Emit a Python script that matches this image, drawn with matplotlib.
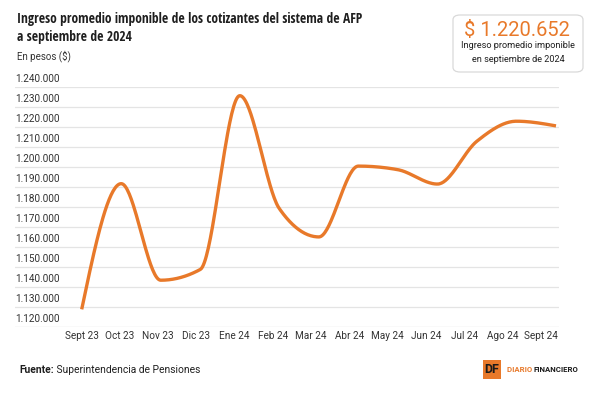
import numpy as np
import matplotlib
matplotlib.use("Agg")
import matplotlib.pyplot as plt
from matplotlib.patches import FancyBboxPatch
import matplotlib.transforms as mtransforms

plt.rcParams['font.family'] = ['Roboto', 'DejaVu Sans']
NARROW = ['Open Sans Condensed', 'Roboto Condensed', 'DejaVu Sans Condensed', 'Noto Sans Condensed']

# ---- data ----
months = ["Sept 23", "Oct 23", "Nov 23", "Dic 23", "Ene 24", "Feb 24", "Mar 24",
          "Abr 24", "May 24", "Jun 24", "Jul 24", "Ago 24", "Sept 24"]
values = [1128700, 1191700, 1143300, 1148700, 1235800, 1179200, 1165000,
          1200500, 1198700, 1191500, 1213000, 1223000, 1220652]
y_ticks = list(range(1120000, 1240001, 10000))

title_lines = ["Ingreso promedio imponible de los cotizantes del sistema de AFP",
               "a septiembre de 2024"]
subtitle = "En pesos ($)"
kpi_value = "$ 1.220.652"
kpi_lines = ["Ingreso promedio imponible", "en septiembre de 2024"]
source_bold = "Fuente:"
source_text = " Superintendencia de Pensiones"

ORANGE = "#E8792A"
DARK = "#1f1f1f"
GREY = "#333333"


def fmt(v):
    return f"{v:,.0f}".replace(",", ".")


def monotone_x(x, y, n=40):
    x = np.asarray(x, float)
    y = np.asarray(y, float)
    h = np.diff(x)
    s = np.diff(y) / h
    t = np.zeros_like(y)
    for i in range(1, len(y) - 1):
        s0, s1 = s[i - 1], s[i]
        h0, h1 = h[i - 1], h[i]
        p = (s0 * h1 + s1 * h0) / (h0 + h1)
        t[i] = (np.sign(s0) + np.sign(s1)) * min(abs(s0), abs(s1), 0.5 * abs(p))
    t[0] = (3 * s[0] - t[1]) / 2
    t[-1] = (3 * s[-1] - t[-2]) / 2
    xs, ys = [], []
    u = np.linspace(0, 1, n)
    for i in range(len(x) - 1):
        dx = h[i] / 3
        P0 = (x[i], y[i])
        P1 = (x[i] + dx, y[i] + dx * t[i])
        P2 = (x[i + 1] - dx, y[i + 1] - dx * t[i + 1])
        P3 = (x[i + 1], y[i + 1])
        bx = ((1 - u) ** 3 * P0[0] + 3 * (1 - u) ** 2 * u * P1[0]
              + 3 * (1 - u) * u ** 2 * P2[0] + u ** 3 * P3[0])
        by = ((1 - u) ** 3 * P0[1] + 3 * (1 - u) ** 2 * u * P1[1]
              + 3 * (1 - u) * u ** 2 * P2[1] + u ** 3 * P3[1])
        xs.append(bx)
        ys.append(by)
    return np.concatenate(xs), np.concatenate(ys)


W, H = 600, 394
fig = plt.figure(figsize=(W / 100, H / 100), dpi=100)
fig.patch.set_facecolor("white")


def fx(px):
    return px / W


def fy(py):
    return 1 - py / H


ax_left, ax_right, ax_top, ax_bot = 15, 559, 87.3, 326.7
ax = fig.add_axes([fx(ax_left), fy(ax_bot), (ax_right - ax_left) / W, (ax_bot - ax_top) / H])
ax.set_facecolor("none")
for sp in ax.spines.values():
    sp.set_visible(False)
ax.set_ylim(y_ticks[0], y_ticks[-1])
step_px = (556 - 81.7) / 12
ax.set_xlim(-(81.7 - ax_left) / step_px, 12 + (ax_right - 556) / step_px)
ax.set_xticks([])
ax.set_yticks([])

for v in y_ticks:
    ax.axhline(v, color="#e4e4e4" if v != y_ticks[0] else "#d6d6d6", lw=0.9, zorder=0)
    ax.text(0, v, fmt(v), transform=mtransforms.blended_transform_factory(ax.transAxes, ax.transData)
            + mtransforms.ScaledTranslation(0, 3 / 100, fig.dpi_scale_trans),
            ha="left", va="bottom", fontsize=7.2, color=GREY)

xi = np.arange(len(values))
cx, cy = monotone_x(xi, values)
ax.plot(cx, cy, color=ORANGE, lw=2.4, solid_capstyle="butt", clip_on=False, zorder=3)

label_pos = xi * (38.25 / step_px)
for p, m in zip(label_pos, months):
    ax.text(p, 0, m, transform=mtransforms.blended_transform_factory(ax.transData, ax.transAxes)
            + mtransforms.ScaledTranslation(0, -9 / 100, fig.dpi_scale_trans),
            ha="center", va="center", fontsize=7.2, color=GREY)

# title
fig.text(fx(17), fy(18.5), title_lines[0], fontsize=9.75, fontweight="bold", color=DARK,
         ha="left", va="center", family=NARROW, fontstretch="condensed")
fig.text(fx(17), fy(37.5), title_lines[1], fontsize=9.75, fontweight="bold", color=DARK,
         ha="left", va="center", family=NARROW, fontstretch="condensed")
fig.text(fx(17), fy(56), subtitle, fontsize=7.0, color=GREY, ha="left", va="center")

# KPI box
box = FancyBboxPatch((fx(453), fy(72)), (583 - 453) / W, (72 - 15) / H,
                     boxstyle="round,pad=0,rounding_size=0.012", transform=fig.transFigure,
                     facecolor="white", edgecolor="#d9d9d9", lw=0.9)
fig.patches.append(box)
fig.text(fx(517), fy(31), kpi_value, fontsize=14.5, color=ORANGE, ha="center", va="center")
fig.text(fx(518), fy(46), kpi_lines[0], fontsize=6.6, color=DARK, ha="center", va="center")
fig.text(fx(518), fy(59), kpi_lines[1], fontsize=6.6, color=DARK, ha="center", va="center")

# source
t1 = fig.text(fx(19), fy(370), source_bold, fontsize=7.4, fontweight="bold", color=DARK, ha="left", va="center")
fig.canvas.draw()
bb = t1.get_window_extent()
fig.text(bb.x1 / W, fy(370), source_text, fontsize=7.4, color=DARK, ha="left", va="center")

# logo
logo = FancyBboxPatch((fx(483), fy(379)), 18 / W, 19 / H, boxstyle="square,pad=0",
                      transform=fig.transFigure, facecolor=ORANGE, edgecolor="none")
fig.patches.append(logo)
fig.text(fx(492), fy(369.5), "DF", fontsize=9, fontweight="bold", color="#1a1a1a", ha="center", va="center")
t2 = fig.text(fx(507), fy(369.5), "DIARIO ", fontsize=5.6, fontweight="bold", color=ORANGE, ha="left", va="center")
fig.canvas.draw()
bb2 = t2.get_window_extent()
fig.text(bb2.x1 / W, fy(369.5), "FINANCIERO", fontsize=5.6, fontweight="bold", color="#1a1a1a", ha="left", va="center")

fig.savefig("out.png", dpi=100, facecolor="white")
